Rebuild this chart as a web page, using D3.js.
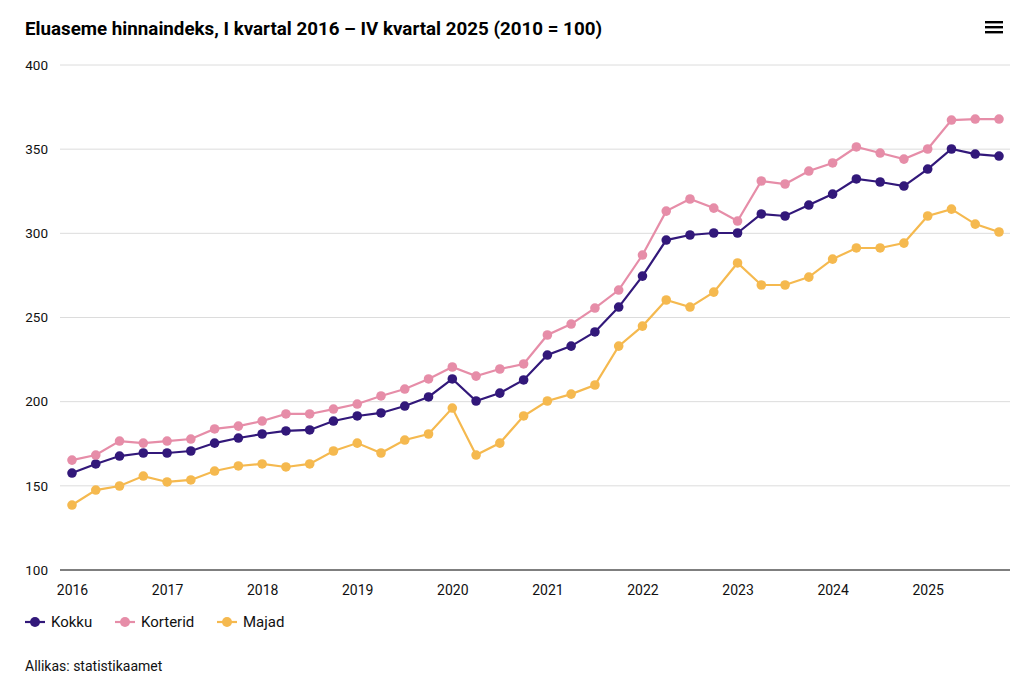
<!DOCTYPE html>
<html>
<head>
<meta charset="utf-8">
<script src="https://cdn.jsdelivr.net/npm/d3@7"></script>
<style>
  body { margin: 0; background: #fff; font-family: Roboto, "Noto Sans", sans-serif; }
  #chart { width: 1024px; height: 687px; }
</style>
</head>
<body>
<div id="chart"></div>
<script>
// Data: quarterly index, I kvartal 2016 .. IV kvartal 2025 (2010 = 100)
const years = [2016, 2017, 2018, 2019, 2020, 2021, 2022, 2023, 2024, 2025];
const kokku = [157.6, 163, 167.7, 169.5, 169.5, 170.7, 175.4, 178.4, 180.8, 182.6, 183.2, 188.5,
               191.5, 193.3, 197.4, 202.8, 213.5, 200.4, 205.1, 212.9, 227.7, 233, 241.4, 256.2,
               274.6, 296, 299, 300.2, 300.2, 311.5, 310.3, 316.8, 323.3, 332.3, 330.5, 328.1,
               338.2, 350.1, 347.1, 345.9];
const korterid = [165.3, 168.3, 176.6, 175.4, 176.6, 177.8, 183.8, 185.5, 188.5, 192.7, 192.7, 195.6,
                  198.6, 203.4, 207.5, 213.5, 220.6, 215.2, 219.4, 222.4, 239.6, 246.1, 255.6, 266.3,
                  287.1, 313.2, 320.4, 315, 307.3, 331.1, 329.3, 337, 341.8, 351.3, 347.7, 344.1,
                  350.1, 367.3, 367.9, 367.9];
const majad = [138.6, 147.5, 149.9, 155.8, 152.3, 153.5, 158.8, 161.8, 163, 161.2, 163, 170.7,
               175.4, 169.5, 177.2, 180.8, 196.2, 168.3, 175.4, 191.5, 200.4, 204.5, 209.9, 233,
               244.9, 260.4, 256.2, 265.1, 282.4, 269.3, 269.3, 274, 284.7, 291.3, 291.3, 294.2,
               310.3, 314.4, 305.5, 300.8];
const yTicks = [100, 150, 200, 250, 300, 350, 400];

const series = [
    {name: "Kokku", values: kokku, color: "#32187a"},
    {name: "Korterid", values: korterid, color: "#e68da8"},
    {name: "Majad", values: majad, color: "#f5b94f"}
];

const width = 1024, height = 687;
const svg = d3.select("#chart").append("svg")
    .attr("width", width)
    .attr("height", height);

// Title
svg.append("text")
    .attr("x", 25)
    .attr("y", 35)
    .style("font-size", "17.5px")
    .style("font-weight", "bold")
    .style("fill", "#000")
    .attr("textLength", 577)
    .attr("lengthAdjust", "spacingAndGlyphs")
    .text("Eluaseme hinnaindeks, I kvartal 2016 \u2013 IV kvartal 2025 (2010 = 100)");

// Menu icon
[22, 27, 32].forEach(yy => {
    svg.append("rect")
        .attr("x", 985).attr("y", yy - 1)
        .attr("width", 18).attr("height", 2.4)
        .attr("fill", "#000");
});

// Scales
const x = d3.scaleLinear().domain([0, kokku.length - 1]).range([72, 999]);
const y = d3.scaleLinear().domain([100, 400]).range([570, 65]);
const gridLeft = 60, gridRight = 1010;

// Grid lines
svg.append("g")
    .selectAll("line")
    .data(yTicks.filter(d => d > 100))
    .enter().append("line")
    .attr("x1", gridLeft).attr("x2", gridRight)
    .attr("y1", d => y(d)).attr("y2", d => y(d))
    .attr("stroke", "#dcdcdc")
    .attr("stroke-width", 1);

// Y axis labels
const yAxis = svg.append("g")
    .attr("transform", `translate(${gridLeft},0)`)
    .call(d3.axisLeft(y).tickValues(yTicks).tickSize(0).tickPadding(12));
yAxis.select(".domain").remove();
yAxis.selectAll("text")
    .style("font-family", "Roboto, sans-serif")
    .style("font-size", "13.5px")
    .style("fill", "#111");

// X axis
svg.append("line")
    .attr("x1", gridLeft).attr("x2", gridRight)
    .attr("y1", y(100)).attr("y2", y(100))
    .attr("stroke", "#000").attr("stroke-width", 1.2);

const xAxis = svg.append("g")
    .attr("transform", `translate(0,${y(100)})`)
    .call(d3.axisBottom(x)
        .tickValues(years.map((d, i) => i * 4))
        .tickFormat((d, i) => years[i])
        .tickSize(0)
        .tickPadding(15));
xAxis.select(".domain").remove();
xAxis.selectAll("text")
    .style("font-family", "Roboto, sans-serif")
    .style("font-size", "14px")
    .style("fill", "#111");

// Lines and markers
const line = d3.line()
    .x((d, i) => x(i))
    .y(d => y(d));

series.forEach(s => {
    svg.append("path")
        .datum(s.values)
        .attr("d", line)
        .attr("fill", "none")
        .attr("stroke", s.color)
        .attr("stroke-width", 2.2);
    svg.append("g")
        .selectAll("circle")
        .data(s.values)
        .enter().append("circle")
        .attr("cx", (d, i) => x(i))
        .attr("cy", d => y(d))
        .attr("r", 4.8)
        .attr("fill", s.color);
});

// Legend
const legendPos = [25, 115, 217];
const legend = svg.selectAll(".legend")
    .data(series)
    .enter().append("g")
    .attr("class", "legend")
    .attr("transform", (d, i) => `translate(${legendPos[i]},622)`);
legend.append("line")
    .attr("x1", 0).attr("x2", 20)
    .attr("stroke", d => d.color)
    .attr("stroke-width", 2.2);
legend.append("circle")
    .attr("cx", 10).attr("r", 5)
    .attr("fill", d => d.color);
legend.append("text")
    .attr("x", 26)
    .attr("dy", "0.35em")
    .style("font-size", "15px")
    .style("fill", "#111")
    .text(d => d.name);

// Source
svg.append("text")
    .attr("x", 25)
    .attr("y", 671)
    .style("font-size", "14px")
    .style("fill", "#111")
    .text("Allikas: statistikaamet");
</script>
</body>
</html>
